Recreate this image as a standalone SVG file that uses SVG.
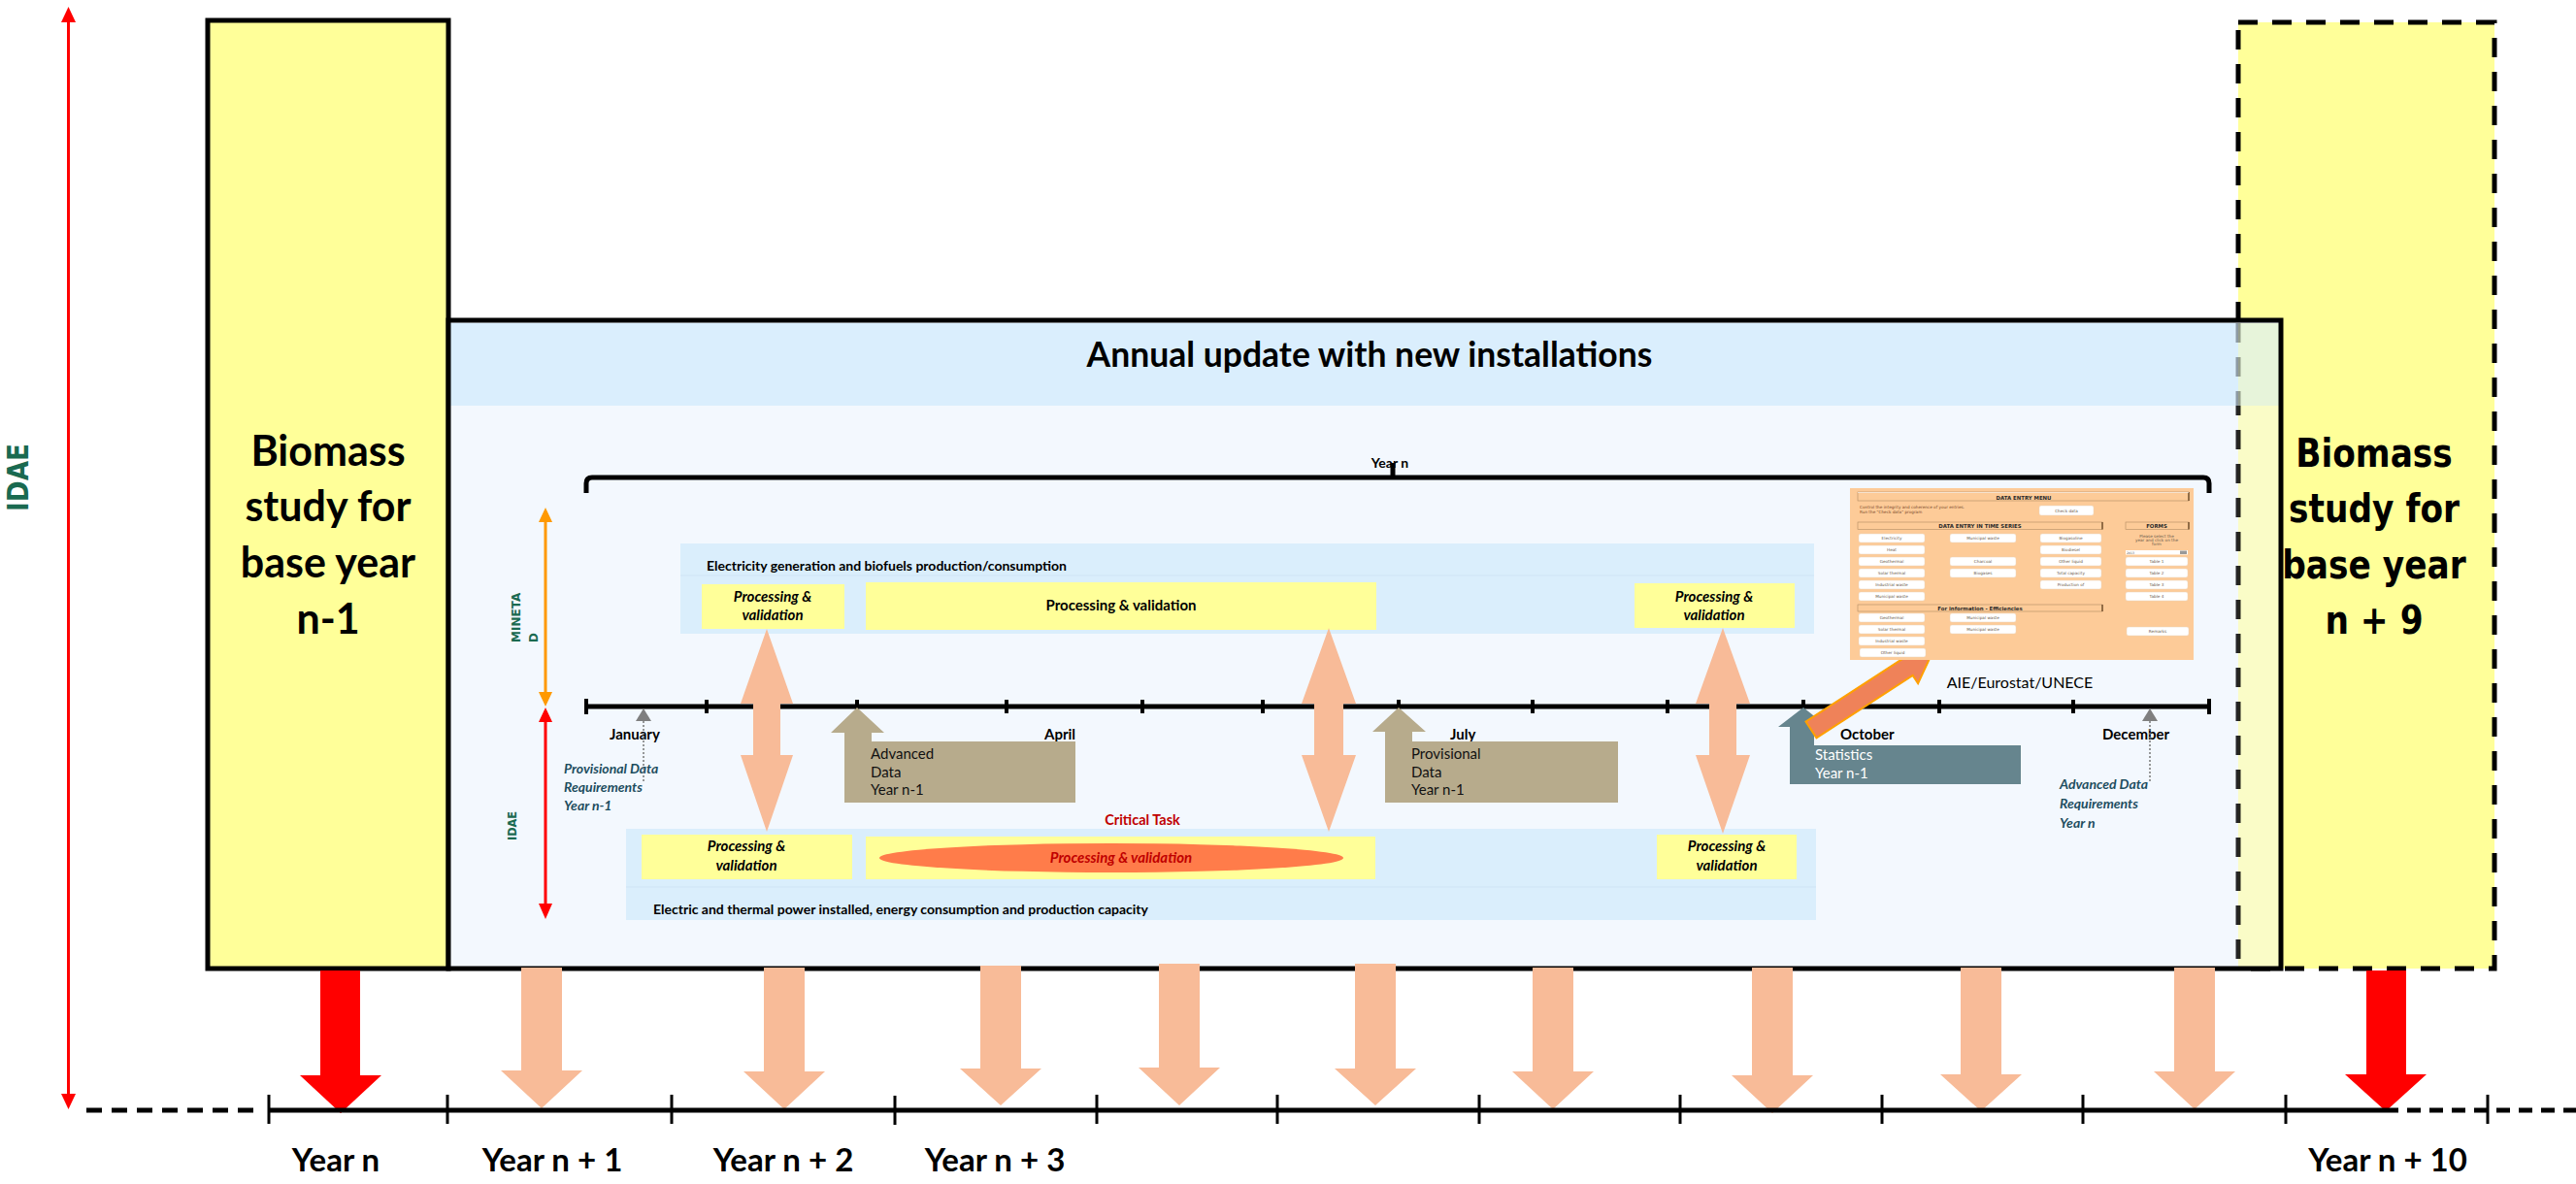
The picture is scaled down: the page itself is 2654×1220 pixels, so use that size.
<svg xmlns="http://www.w3.org/2000/svg" width="2654" height="1220" viewBox="0 0 2654 1220">
  <style>
    .cal { font-family: Lato, "Open Sans", "Liberation Sans", sans-serif; }
    .wide { font-family: "DejaVu Sans", Verdana, sans-serif; font-weight: bold; }
    .bold { font-weight: bold; }
    .ital { font-style: italic; font-weight: bold; }
    .big { font-family: Lato, "Liberation Sans", sans-serif; font-weight: bold; font-size: 43px; fill: #000; text-anchor: middle; }
    .year { font-family: Lato, "Liberation Sans", sans-serif; font-weight: bold; font-size: 33px; fill: #000; text-anchor: middle; }
    .month { font-family: Lato, "Liberation Sans", sans-serif; font-weight: bold; font-size: 15px; fill: #000; }
    .req { font-family: Lato, "Liberation Sans", sans-serif; font-style: italic; font-weight: bold; font-size: 14px; fill: #1d4d5e; }
    .proc { font-family: Lato, "Liberation Sans", sans-serif; font-style: italic; font-weight: bold; font-size: 15px; fill: #000; text-anchor: middle; }
    .call { font-family: Lato, "Liberation Sans", sans-serif; font-size: 15px; fill: #111; }
    .green { fill: #1a6a50; }
    .yel { fill: #FFFF99; }
    .band { fill: #DAEEFC; }
    .peach { fill: #F8BB98; }
    .redfill { fill: #FF0000; }
    .tick { stroke: #000; stroke-width: 4; }
    .btick { stroke: #000; stroke-width: 3; }
    .btn { fill: #fff; stroke: #ead3b8; stroke-width: 0.5; }
    .btxt { font-family: "DejaVu Sans", sans-serif; font-size: 4.2px; fill: #6b5a4a; text-anchor: middle; }
    .bar { fill: none; stroke: #b38c63; stroke-width: 0.6; }
    .bartxt { font-family: "DejaVu Sans", sans-serif; font-weight: bold; font-size: 5.4px; fill: #2a2a2a; text-anchor: middle; }
  </style>

  <!-- Right base-year study (dashed, future) -->
  <g id="study-n9">
    <rect x="2306" y="23" width="264" height="975" fill="#FFFF99" stroke="#000" stroke-width="5" stroke-dasharray="20 15"/>
  </g>

  <!-- Left base-year study -->
  <g id="study-n1">
    <rect x="214" y="21" width="248" height="977" fill="#FFFF99" stroke="#000" stroke-width="5"/>
    <text class="big" x="338" y="480">Biomass</text>
    <text class="big" x="338" y="537">study for</text>
    <text class="big" x="338" y="595">base year</text>
    <text class="big" x="338" y="653">n-1</text>
  </g>

  <!-- Annual update panel -->
  <g id="annual-update">
    <rect x="462" y="330" width="1888" height="668" fill="#F3F8FE"/>
    <rect x="464" y="333" width="1884" height="85" fill="#DAEEFD"/>
    <!-- overlap with the n+9 study -->
    <rect x="2306" y="333" width="44" height="85" fill="#FFFF99" opacity="0.35"/>
    <rect x="2306" y="418" width="44" height="578" fill="#FFFF99" opacity="0.55"/>
    <line x1="2306" y1="333" x2="2306" y2="418" stroke="#000" stroke-width="5" stroke-dasharray="20 15" opacity="0.35"/>
    <line x1="2306" y1="418" x2="2306" y2="996" stroke="#000" stroke-width="5" stroke-dasharray="20 15" stroke-dashoffset="10" opacity="0.85"/>
    <rect x="462" y="330" width="1888" height="668" fill="none" stroke="#000" stroke-width="5"/>
    <text class="cal bold" x="1411" y="378" font-size="35.5" text-anchor="middle">Annual update with new installations</text>
  </g>

  <!-- Text of the n+9 study on top of the overlap -->
  <g id="study-n9-label">
    <g transform="translate(2446,0) scale(0.86,1)">
      <text class="wide" x="0" y="481" font-size="40" text-anchor="middle">Biomass</text>
      <text class="wide" x="0" y="538" font-size="40" text-anchor="middle">study for</text>
      <text class="wide" x="0" y="596" font-size="40" text-anchor="middle">base year</text>
      <text class="wide" x="0" y="653" font-size="40" text-anchor="middle">n + 9</text>
    </g>
  </g>

  <!-- Actor label on the far left -->
  <g id="label-idae">
    <text class="wide green" transform="translate(29,492) rotate(-90) scale(0.85,1)" font-size="31" text-anchor="middle">IDAE</text>
  </g>

  <!-- Year n brace -->
  <g id="year-n">
    <text class="cal bold" x="1432" y="482" font-size="14" text-anchor="middle">Year n</text>
    <path d="M604,508 L604,498 Q604,492 610,492 L2270,492 Q2276,492 2276,498 L2276,508" fill="none" stroke="#000" stroke-width="5"/>
    <line x1="1435" y1="477" x2="1435" y2="492" stroke="#000" stroke-width="5"/>
  </g>

  <!-- MINETAD band -->
  <g id="band-minetad">
    <rect class="band" x="701" y="560" width="1168" height="93"/>
    <line x1="701" y1="593" x2="1869" y2="593" stroke="#cfe4f5" stroke-width="1"/>
    <text class="cal bold" x="728" y="588" font-size="14">Electricity generation and biofuels production/consumption</text>
    <rect class="yel" x="723" y="602" width="147" height="46"/>
    <text class="proc" x="796" y="620">Processing &amp;</text>
    <text class="proc" x="796" y="639">validation</text>
    <rect class="yel" x="892" y="600" width="526" height="49"/>
    <text class="cal bold" x="1155" y="629" font-size="15" text-anchor="middle">Processing &amp; validation</text>
    <rect class="yel" x="1684" y="601" width="165" height="46"/>
    <text class="proc" x="1766" y="620">Processing &amp;</text>
    <text class="proc" x="1766" y="639">validation</text>
  </g>

  <!-- IDAE band -->
  <g id="band-idae">
    <rect class="band" x="645" y="854" width="1226" height="94"/>
    <line x1="645" y1="914" x2="1871" y2="914" stroke="#cfe4f5" stroke-width="1"/>
    <text class="cal bold" x="673" y="942" font-size="14">Electric and thermal power installed, energy consumption and production capacity</text>
    <rect class="yel" x="661" y="860" width="217" height="46"/>
    <text class="proc" x="769" y="877">Processing &amp;</text>
    <text class="proc" x="769" y="897">validation</text>
    <rect class="yel" x="892" y="862" width="525" height="44"/>
    <ellipse cx="1145" cy="884" rx="239" ry="15" fill="#FF7C4A"/>
    <text class="proc" x="1155" y="889" style="fill:#C00000">Processing &amp; validation</text>
    <rect class="yel" x="1707" y="860" width="144" height="46"/>
    <text class="proc" x="1779" y="877">Processing &amp;</text>
    <text class="proc" x="1779" y="897">validation</text>
    <text class="cal bold" x="1177" y="850" font-size="14.5" fill="#C00000" text-anchor="middle">Critical Task</text>
  </g>

  <!-- Actors on the month timeline -->
  <g id="actor-minetad">
    <text class="wide green" transform="translate(536,662) rotate(-90)" font-size="12">MINETA</text>
    <text class="wide green" transform="translate(554,662) rotate(-90)" font-size="12">D</text>
  </g>
  <g id="actor-idae">
    <text class="wide green" transform="translate(532,851) rotate(-90) scale(0.87,1)" font-size="13" text-anchor="middle">IDAE</text>
  </g>

  <!-- Month timeline -->
  <g id="month-axis">
    <line x1="604" y1="728" x2="2276" y2="728" stroke="#000" stroke-width="5"/>
    <g class="tick">
      <line x1="604" y1="720" x2="604" y2="736"/>
      <line x1="728" y1="721" x2="728" y2="735"/>
      <line x1="883" y1="721" x2="883" y2="735"/>
      <line x1="1037" y1="721" x2="1037" y2="735"/>
      <line x1="1177" y1="721" x2="1177" y2="735"/>
      <line x1="1301" y1="721" x2="1301" y2="735"/>
      <line x1="1441" y1="721" x2="1441" y2="735"/>
      <line x1="1579" y1="721" x2="1579" y2="735"/>
      <line x1="1718" y1="721" x2="1718" y2="735"/>
      <line x1="1858" y1="721" x2="1858" y2="735"/>
      <line x1="1998" y1="721" x2="1998" y2="735"/>
      <line x1="2136" y1="721" x2="2136" y2="735"/>
      <line x1="2276" y1="720" x2="2276" y2="736"/>
    </g>
    <text class="month" x="628" y="762">January</text>
    <text class="month" x="1076" y="762">April</text>
    <text class="month" x="1494" y="762">July</text>
    <text class="month" x="1896" y="762">October</text>
    <text class="month" x="2166" y="762">December</text>
  </g>

  <!-- Data requirement notes -->
  <g id="req-provisional">
    <text class="req" x="581" y="797">Provisional Data</text>
    <text class="req" x="581" y="816">Requirements</text>
    <text class="req" x="581" y="835">Year n-1</text>
  </g>
  <g id="req-advanced">
    <text class="req" x="2122" y="813">Advanced Data</text>
    <text class="req" x="2122" y="833">Requirements</text>
    <text class="req" x="2122" y="853">Year n</text>
  </g>

  <!-- Data deliveries -->
  <g id="delivery-advanced">
    <polygon points="870,827 870,755 856,755 883,729 911,755 898,755 898,764 1108,764 1108,827" fill="#B7AB8C"/>
    <text class="call" x="897" y="782">Advanced</text>
    <text class="call" x="897" y="801">Data</text>
    <text class="call" x="897" y="819">Year n-1</text>
  </g>
  <g id="delivery-provisional">
    <polygon points="1427,827 1427,754 1414,754 1441,729 1469,754 1455,754 1455,764 1667,764 1667,827" fill="#B7AB8C"/>
    <text class="call" x="1454" y="782">Provisional</text>
    <text class="call" x="1454" y="801">Data</text>
    <text class="call" x="1454" y="819">Year n-1</text>
  </g>
  <g id="delivery-statistics">
    <polygon points="1844,808 1844,749 1832,749 1858,729 1883,749 1869,749 1869,768 2082,768 2082,808" fill="#66858E"/>
    <text class="call" x="1870" y="783" style="fill:#fff">Statistics</text>
    <text class="call" x="1870" y="802" style="fill:#fff">Year n-1</text>
  </g>

  <!-- Connectors -->
  <g id="connectors">
    <!-- requirement pointers -->
    <line x1="663" y1="743" x2="663" y2="805" stroke="#777" stroke-width="1.5" stroke-dasharray="2 2"/>
    <polygon points="655,743 663,730 671,743" fill="#7f7f7f"/>
    <line x1="2215" y1="743" x2="2215" y2="805" stroke="#777" stroke-width="1.5" stroke-dasharray="2 2"/>
    <polygon points="2207,743 2215,730 2223,743" fill="#7f7f7f"/>

    <!-- exchanges between MINETAD and IDAE -->
    <polygon class="peach" points="790,648 817,725 804,725 804,778 817,778 790,857 763,778 776,778 776,725 763,725"/>
    <polygon class="peach" points="1369,647 1397,725 1384,725 1384,778 1397,778 1369,857 1341,778 1354,778 1354,725 1341,725"/>
    <polygon class="peach" points="1775,647 1803,725 1789,725 1789,778 1803,778 1775,859 1747,778 1761,778 1761,725 1747,725"/>

    <!-- report to international bodies -->
    <polygon points="1871.5,760.4 1860.5,743.6 1959.7,679.1 1954.3,670.7 1992,670 1976.1,704.3 1970.7,695.9" fill="#EF8259" stroke="#FFA000" stroke-width="2" stroke-linejoin="miter"/>

    <!-- vertical actor axis -->
    <line x1="70.5" y1="20" x2="70.5" y2="1130" stroke="#FF0000" stroke-width="3"/>
    <polygon points="63,23 70.5,7 78,23" fill="#FF0000"/>
    <polygon points="63,1127 70.5,1143 78,1127" fill="#FF0000"/>

    <!-- MINETAD / IDAE span arrows -->
    <line x1="562" y1="536" x2="562" y2="716" stroke="#FF9900" stroke-width="3"/>
    <polygon points="555,538 562,523 569,538" fill="#FF9900"/>
    <polygon points="555,713 562,728 569,713" fill="#FF9900"/>
    <line x1="562" y1="742" x2="562" y2="933" stroke="#FF0000" stroke-width="3"/>
    <polygon points="555,744 562,729 569,744" fill="#FF0000"/>
    <polygon points="555,931 562,947 569,931" fill="#FF0000"/>

    <!-- yearly outputs down to the year axis -->
    <polygon class="redfill" points="330,1000 371,1000 371,1108 393,1108 351,1147 309,1108 330,1108"/>
    <polygon class="redfill" points="2438,1000 2479,1000 2479,1107 2500,1107 2458,1145 2416,1107 2438,1107"/>
    <polygon class="peach" points="537,997 579,997 579,1103 600,1103 558,1142 516,1103 537,1103"/>
    <polygon class="peach" points="787,997 829,997 829,1104 850,1104 808,1143 766,1104 787,1104"/>
    <polygon class="peach" points="1010,995 1052,995 1052,1101 1073,1101 1031,1139 989,1101 1010,1101"/>
    <polygon class="peach" points="1194,993 1236,993 1236,1100 1257,1100 1215,1139 1173,1100 1194,1100"/>
    <polygon class="peach" points="1396,993 1438,993 1438,1101 1459,1101 1417,1139 1375,1101 1396,1101"/>
    <polygon class="peach" points="1579,997 1621,997 1621,1104 1642,1104 1600,1143 1558,1104 1579,1104"/>
    <polygon class="peach" points="1805,997 1847,997 1847,1108 1868,1108 1826,1147 1784,1108 1805,1108"/>
    <polygon class="peach" points="2020,997 2062,997 2062,1107 2083,1107 2041,1145 1999,1107 2020,1107"/>
    <polygon class="peach" points="2240,997 2282,997 2282,1104 2303,1104 2261,1143 2219,1104 2240,1104"/>
  </g>

  <!-- Data entry menu of the joint questionnaire -->
  <g id="data-entry-menu">
    <rect x="1906" y="503" width="354" height="177" fill="#FDCB98"/>
    <rect class="bar" x="1914" y="507" width="341" height="9"/>
    <line x1="2255" y1="507" x2="2255" y2="516" stroke="#5a3a1a" stroke-width="1.2"/>
    <line x1="1914" y1="507.5" x2="2255" y2="507.5" stroke="#fff" stroke-width="0.6"/>
    <text class="bartxt" x="2085" y="514.5" font-size="7">DATA ENTRY MENU</text>
    <text x="1916" y="524" font-family="DejaVu Sans, sans-serif" font-size="4.2" fill="#7a4a2a">Control the integrity and coherence of your entries.</text>
    <text x="1916" y="528.5" font-family="DejaVu Sans, sans-serif" font-size="4.2" fill="#7a4a2a">Run the "Check data" program</text>
    <rect class="btn" x="2101" y="521" width="56" height="10" rx="2"/>
    <text class="btxt" x="2129" y="527.5">Check data</text>

    <rect class="bar" x="1914" y="538" width="252" height="7.5"/>
    <line x1="2166" y1="538" x2="2166" y2="545.5" stroke="#5a3a1a" stroke-width="1.2"/>
    <text class="bartxt" x="2040" y="544">DATA ENTRY IN TIME SERIES</text>
    <rect class="bar" x="2190" y="538" width="65" height="7.5"/>
    <line x1="2255" y1="538" x2="2255" y2="545.5" stroke="#5a3a1a" stroke-width="1.2"/>
    <text class="bartxt" x="2222" y="544">FORMS</text>

    <rect class="btn" x="1915" y="550" width="68" height="9" rx="2"/><text class="btxt" x="1949" y="556.3">Electricity</text>
    <rect class="btn" x="1915" y="562" width="68" height="9" rx="2"/><text class="btxt" x="1949" y="568.3">Heat</text>
    <rect class="btn" x="1915" y="574" width="68" height="9" rx="2"/><text class="btxt" x="1949" y="580.3">Geothermal</text>
    <rect class="btn" x="1915" y="586" width="68" height="9" rx="2"/><text class="btxt" x="1949" y="592.3">Solar thermal</text>
    <rect class="btn" x="1915" y="598" width="68" height="9" rx="2"/><text class="btxt" x="1949" y="604.3">Industrial waste</text>
    <rect class="btn" x="1915" y="610" width="68" height="9" rx="2"/><text class="btxt" x="1949" y="616.3">Municipal waste</text>

    <rect class="btn" x="2009" y="550" width="68" height="9" rx="2"/><text class="btxt" x="2043" y="556.3">Municipal waste</text>
    <rect class="btn" x="2009" y="574" width="68" height="9" rx="2"/><text class="btxt" x="2043" y="580.3">Charcoal</text>
    <rect class="btn" x="2009" y="586" width="68" height="9" rx="2"/><text class="btxt" x="2043" y="592.3">Biogases</text>

    <rect class="btn" x="2102" y="550" width="63" height="9" rx="2"/><text class="btxt" x="2133.5" y="556.3">Biogasoline</text>
    <rect class="btn" x="2102" y="562" width="63" height="9" rx="2"/><text class="btxt" x="2133.5" y="568.3">Biodiesel</text>
    <rect class="btn" x="2102" y="574" width="63" height="9" rx="2"/><text class="btxt" x="2133.5" y="580.3">Other liquid</text>
    <rect class="btn" x="2102" y="586" width="63" height="9" rx="2"/><text class="btxt" x="2133.5" y="592.3">Total capacity</text>
    <rect class="btn" x="2102" y="598" width="63" height="9" rx="2"/><text class="btxt" x="2133.5" y="604.3">Production of</text>

    <text class="btxt" x="2222" y="553.5">Please select the</text>
    <text class="btxt" x="2222" y="557.5">year and click on the</text>
    <text class="btxt" x="2222" y="561.5">form</text>
    <rect x="2190" y="567" width="64" height="4.5" fill="#fff"/>
    <rect x="2246" y="567.5" width="7" height="3.5" fill="#999"/>
    <text x="2191" y="570.8" font-family="DejaVu Sans, sans-serif" font-size="3.2" fill="#555">2013</text>
    <rect class="btn" x="2190" y="574" width="64" height="9" rx="2"/><text class="btxt" x="2222" y="580.3">Table 1</text>
    <rect class="btn" x="2190" y="586" width="64" height="9" rx="2"/><text class="btxt" x="2222" y="592.3">Table 2</text>
    <rect class="btn" x="2190" y="598" width="64" height="9" rx="2"/><text class="btxt" x="2222" y="604.3">Table 3</text>
    <rect class="btn" x="2190" y="610" width="64" height="9" rx="2"/><text class="btxt" x="2222" y="616.3">Table 4</text>

    <rect class="bar" x="1914" y="623" width="252" height="7"/>
    <line x1="2166" y1="623" x2="2166" y2="630" stroke="#5a3a1a" stroke-width="1.2"/>
    <text class="bartxt" x="2040" y="628.8">For information - Efficiencies</text>

    <rect class="btn" x="1915" y="632" width="68" height="9" rx="2"/><text class="btxt" x="1949" y="638.3">Geothermal</text>
    <rect class="btn" x="1915" y="644" width="68" height="9" rx="2"/><text class="btxt" x="1949" y="650.3">Solar thermal</text>
    <rect class="btn" x="1915" y="656" width="68" height="9" rx="2"/><text class="btxt" x="1949" y="662.3">Industrial waste</text>
    <rect class="btn" x="1916" y="668" width="68" height="9" rx="2"/><text class="btxt" x="1950" y="674.3">Other liquid</text>
    <rect class="btn" x="2009" y="632" width="68" height="9" rx="2"/><text class="btxt" x="2043" y="638.3">Municipal waste</text>
    <rect class="btn" x="2009" y="644" width="68" height="9" rx="2"/><text class="btxt" x="2043" y="650.3">Municipal waste</text>
    <rect class="btn" x="2191" y="646" width="64" height="9" rx="2"/><text class="btxt" x="2223" y="652.3">Remarks</text>
  </g>
  <g id="label-international">
    <text class="cal" x="2081" y="709" font-size="16" text-anchor="middle">AIE/Eurostat/UNECE</text>
  </g>

  <!-- Year axis -->
  <g id="year-axis">
    <line x1="89" y1="1144" x2="263" y2="1144" stroke="#000" stroke-width="5" stroke-dasharray="16 10"/>
    <line x1="277" y1="1144" x2="2457" y2="1144" stroke="#000" stroke-width="5"/>
    <line x1="2457" y1="1144" x2="2654" y2="1144" stroke="#000" stroke-width="5" stroke-dasharray="14 9"/>
    <g class="btick">
      <line x1="277" y1="1128" x2="277" y2="1158"/>
      <line x1="461" y1="1128" x2="461" y2="1158"/>
      <line x1="692" y1="1128" x2="692" y2="1158"/>
      <line x1="922" y1="1129" x2="922" y2="1159"/>
      <line x1="1130" y1="1128" x2="1130" y2="1158"/>
      <line x1="1316" y1="1128" x2="1316" y2="1158"/>
      <line x1="1524" y1="1128" x2="1524" y2="1158"/>
      <line x1="1731" y1="1128" x2="1731" y2="1158"/>
      <line x1="1939" y1="1128" x2="1939" y2="1158"/>
      <line x1="2146" y1="1128" x2="2146" y2="1158"/>
      <line x1="2355" y1="1128" x2="2355" y2="1158"/>
      <line x1="2563" y1="1128" x2="2563" y2="1158"/>
    </g>
    <text class="year" x="346" y="1207">Year n</text>
    <text class="year" x="569" y="1207">Year n + 1</text>
    <text class="year" x="807" y="1207">Year n + 2</text>
    <text class="year" x="1025" y="1207">Year n + 3</text>
    <text class="year" x="2460" y="1207">Year n + 10</text>
  </g>
</svg>
